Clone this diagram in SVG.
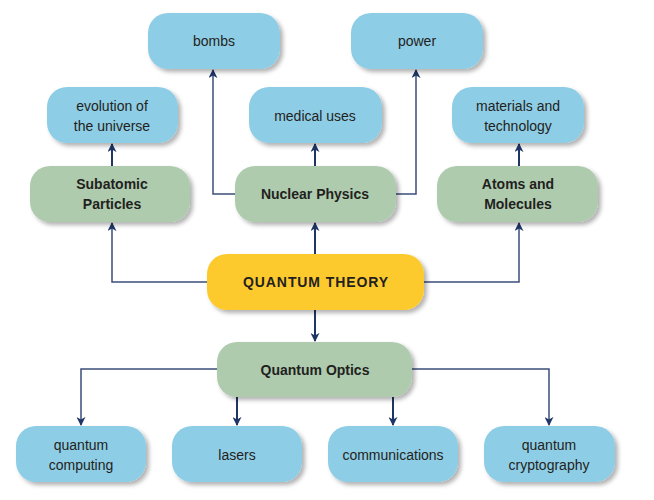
<svg xmlns="http://www.w3.org/2000/svg" width="654" height="500" viewBox="0 0 654 500">
<defs>
<filter id="sh" x="-10%" y="-10%" width="130%" height="140%">
<feDropShadow dx="3" dy="3" stdDeviation="2" flood-color="#000" flood-opacity="0.3"/>
</filter>
<marker id="ah" viewBox="0 0 10 10" refX="9" refY="5" markerWidth="9" markerHeight="9" orient="auto-start-reverse" markerUnits="userSpaceOnUse">
<path d="M0,0 L10,5 L0,10 L3,5 Z" fill="#1e3566"/>
</marker>
</defs>
<style>
.b{fill:#8ecde6;filter:url(#sh)}
.g{fill:#aecbae;filter:url(#sh)}
.y{fill:#fdca2f;filter:url(#sh)}
text{font-family:"Liberation Sans",Arial,sans-serif;font-size:14px;fill:#231f20;text-anchor:middle}
.bd{font-weight:bold}
.qt{font-weight:bold;font-size:14px;letter-spacing:0.9px}
.c{fill:none;stroke:#3b4d7a;stroke-width:1.5}
.cd{fill:none;stroke:#1e3566;stroke-width:2}
</style>
<g id="connectors">
<path class="c" d="M207,282 H112 V223" marker-end="url(#ah)"/>
<path class="c" d="M424,282 H519 V223" marker-end="url(#ah)"/>
<path class="cd" d="M315,254 V223" marker-end="url(#ah)"/>
<path class="cd" d="M315,310 V341" marker-end="url(#ah)"/>
<path class="cd" d="M112,166 V144" marker-end="url(#ah)"/>
<path class="cd" d="M315,166 V144" marker-end="url(#ah)"/>
<path class="cd" d="M519,166 V144" marker-end="url(#ah)"/>
<path class="c" d="M235,194 H213 V70" marker-end="url(#ah)"/>
<path class="c" d="M396,194 H416 V70" marker-end="url(#ah)"/>
<path class="c" d="M217,369 H81 V425" marker-end="url(#ah)"/>
<path class="c" d="M412,369 H549 V425" marker-end="url(#ah)"/>
<path class="cd" d="M237,397 V425" marker-end="url(#ah)"/>
<path class="cd" d="M393,397 V425" marker-end="url(#ah)"/>
</g>
<g id="bombs"><rect class="b" x="148" y="13" width="132" height="56" rx="20"/><text x="214" y="46">bombs</text></g>
<g id="power"><rect class="b" x="351" y="13" width="132" height="56" rx="20"/><text x="417" y="46">power</text></g>
<g id="evolution"><rect class="b" x="47" y="87" width="131" height="56" rx="20"/><text x="112" y="111">evolution of</text><text x="112" y="131">the universe</text></g>
<g id="medical"><rect class="b" x="249" y="87" width="133" height="56" rx="20"/><text x="315" y="121">medical uses</text></g>
<g id="materials"><rect class="b" x="452" y="87" width="132" height="56" rx="20"/><text x="518" y="111">materials and</text><text x="518" y="131">technology</text></g>
<g id="subatomic"><rect class="g" x="30" y="166" width="160" height="56" rx="20"/><text class="bd" x="112" y="189">Subatomic</text><text class="bd" x="112" y="209">Particles</text></g>
<g id="nuclear"><rect class="g" x="235" y="166" width="161" height="56" rx="20"/><text class="bd" x="315" y="199">Nuclear Physics</text></g>
<g id="atoms"><rect class="g" x="437" y="166" width="161" height="56" rx="20"/><text class="bd" x="518" y="189">Atoms and</text><text class="bd" x="518" y="209">Molecules</text></g>
<g id="quantum-theory"><rect class="y" x="207" y="254" width="217" height="56" rx="20"/><text class="qt" x="316" y="287">QUANTUM THEORY</text></g>
<g id="quantum-optics"><rect class="g" x="217" y="342" width="195" height="55" rx="20"/><text class="bd" x="315" y="375">Quantum Optics</text></g>
<g id="computing"><rect class="b" x="16" y="426" width="130" height="56" rx="20"/><text x="81" y="450">quantum</text><text x="81" y="470">computing</text></g>
<g id="lasers"><rect class="b" x="172" y="426" width="130" height="56" rx="20"/><text x="237" y="460">lasers</text></g>
<g id="communications"><rect class="b" x="328" y="426" width="130" height="56" rx="20"/><text x="393" y="460">communications</text></g>
<g id="cryptography"><rect class="b" x="484" y="426" width="131" height="56" rx="20"/><text x="549" y="450">quantum</text><text x="549" y="470">cryptography</text></g>
</svg>
